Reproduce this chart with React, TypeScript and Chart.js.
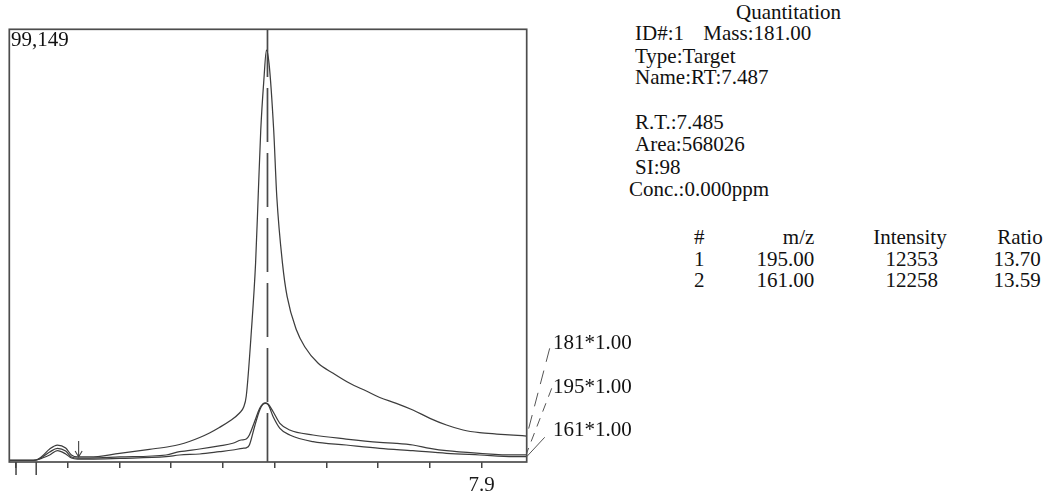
import React, { useEffect, useRef } from "react";
import { Chart, registerables } from "chart.js";

Chart.register(...registerables);

// ---- data ----
const yMax = 99149;
const xMin = 6.987;
const xMax = 7.987;
const xTickValues = [7.0, 7.1, 7.2, 7.3, 7.4, 7.5, 7.6, 7.7, 7.8, 7.9];
const xTickLabels = ["", "", "", "", "", "", "", "", "", "7.9"];
const markerTicks = [7.0, 7.039];
const arrowRT = 7.121;
const rtLine = 7.486;
const seriesNames = ["181*1.00", "195*1.00", "161*1.00"];

const rt181 = [6.987, 7.026, 7.039, 7.051, 7.065, 7.08, 7.096, 7.107, 7.119, 7.142, 7.2, 7.258, 7.297, 7.316, 7.335, 7.355, 7.374, 7.393, 7.413, 7.432, 7.44, 7.445, 7.455, 7.463, 7.468, 7.473, 7.479, 7.484, 7.489, 7.498, 7.504, 7.515, 7.524, 7.542, 7.558, 7.584, 7.613, 7.645, 7.677, 7.703, 7.735, 7.767, 7.8, 7.832, 7.864, 7.896, 7.929, 7.961, 7.987];
const int181 = [344, 344, 458, 1375, 2978, 3895, 3207, 1604, 1146, 1146, 1993, 2910, 3551, 4009, 4697, 5613, 6644, 7904, 9393, 11226, 12600, 15120, 30241, 45522, 60780, 76061, 87516, 94389, 91343, 76061, 60780, 45522, 37870, 30241, 26416, 22612, 20322, 18030, 16266, 14777, 13448, 11913, 10012, 8477, 7331, 6713, 6415, 6186, 5957];

const rt195 = [6.987, 7.026, 7.039, 7.051, 7.065, 7.08, 7.096, 7.107, 7.119, 7.142, 7.2, 7.29, 7.316, 7.355, 7.393, 7.419, 7.435, 7.445, 7.451, 7.461, 7.471, 7.477, 7.482, 7.487, 7.497, 7.51, 7.529, 7.574, 7.638, 7.703, 7.735, 7.767, 7.8, 7.832, 7.896, 7.961, 7.987];
const int195 = [344, 344, 458, 1146, 2292, 3138, 2520, 1146, 916, 916, 1146, 1604, 2360, 2978, 3700, 4300, 5040, 5270, 6186, 9233, 12303, 13300, 13560, 13300, 11524, 8866, 7331, 6186, 5269, 4513, 4284, 3895, 3139, 2589, 1993, 1604, 1604];

const rt161 = [6.987, 7.026, 7.039, 7.051, 7.065, 7.08, 7.096, 7.107, 7.119, 7.142, 7.2, 7.29, 7.316, 7.355, 7.393, 7.419, 7.438, 7.445, 7.451, 7.461, 7.471, 7.477, 7.482, 7.487, 7.497, 7.51, 7.529, 7.574, 7.638, 7.703, 7.767, 7.832, 7.896, 7.961, 7.987];
const int161 = [344, 344, 458, 916, 1604, 2589, 1833, 916, 687, 687, 848, 1214, 1604, 1833, 2360, 2749, 3138, 3250, 3895, 8087, 11913, 13200, 13450, 13200, 10378, 7721, 6186, 4651, 3895, 3139, 2589, 1993, 1604, 1214, 1214];

const toPoints = (xs: number[], ys: number[]) => xs.map((x, i) => ({ x, y: ys[i] }));

const LINE = "#444444";
const FONT = '"Liberation Serif", "Times New Roman", serif';

const overlayPlugin = {
  id: "overlay",
  beforeDatasetsDraw(chart: any) {
    const { ctx, chartArea: a, scales } = chart;
    const px = scales.x.getPixelForValue(rtLine);
    ctx.save();
    ctx.strokeStyle = "#4a4a4a";
    ctx.lineWidth = 1.7;
    const firstGap = a.top + 47.7;
    const segs: [number, number][] = [[a.top, firstGap]];
    for (let k = 0; k < 5; k++) {
      const s = firstGap + 65 * k + 11;
      segs.push([s, s + 54]);
    }
    segs.push([firstGap + 65 * 5 + 11, a.bottom]);
    ctx.beginPath();
    segs.forEach(([s, e]) => {
      ctx.moveTo(px, s);
      ctx.lineTo(px, e);
    });
    ctx.stroke();
    ctx.restore();
  },
  afterDraw(chart: any) {
    const { ctx, chartArea: a, scales } = chart;
    ctx.save();
    // plot frame
    ctx.strokeStyle = "#4d4d4d";
    ctx.lineWidth = 1.7;
    ctx.strokeRect(a.left, a.top, a.right - a.left, a.bottom - a.top);
    // long marker ticks
    ctx.lineWidth = 1.5;
    ctx.strokeStyle = LINE;
    ctx.beginPath();
    markerTicks.forEach((v) => {
      const p = scales.x.getPixelForValue(v);
      ctx.moveTo(p, a.bottom);
      ctx.lineTo(p, a.bottom + 13);
    });
    ctx.stroke();
    // peak-start arrow
    const ax = scales.x.getPixelForValue(arrowRT);
    const ay = a.bottom - 5;
    ctx.lineWidth = 1.1;
    ctx.beginPath();
    ctx.moveTo(ax, ay - 16);
    ctx.lineTo(ax, ay);
    ctx.moveTo(ax - 3.5, ay - 6);
    ctx.lineTo(ax, ay);
    ctx.lineTo(ax + 3.5, ay - 6);
    ctx.stroke();
    // leader lines to series labels
    const anchors: [number, number][] = [
      [a.right + 23, a.top + 319],
      [a.right + 25, a.top + 359],
      [a.right + 18, a.top + 408],
    ];
    const dashes = [[14, 9], [9, 7], []];
    chart.data.datasets.forEach((ds: any, i: number) => {
      const last = ds.data[ds.data.length - 1];
      const sx = scales.x.getPixelForValue(last.x);
      const sy = scales.y.getPixelForValue(last.y);
      ctx.setLineDash(dashes[i]);
      ctx.lineWidth = 1;
      ctx.strokeStyle = "#555";
      ctx.beginPath();
      ctx.moveTo(anchors[i][0], anchors[i][1]);
      ctx.lineTo(sx, sy - (i === 1 ? 2 : 0));
      ctx.stroke();
    });
    ctx.restore();
  },
};

function Txt(props: { x?: number; right?: number; top: number; children: React.ReactNode }) {
  const style: React.CSSProperties = {
    position: "absolute",
    top: props.top,
    whiteSpace: "nowrap",
  };
  if (props.right !== undefined) {
    style.right = 1053 - props.right;
    style.textAlign = "right";
  } else {
    style.left = props.x;
  }
  return <div style={style}>{props.children}</div>;
}

export default function App() {
  const ref = useRef<HTMLCanvasElement | null>(null);

  useEffect(() => {
    if (!ref.current) return;
    const mk = (label: string, xs: number[], ys: number[]) => ({
      label,
      data: toPoints(xs, ys),
      borderColor: "#3d3d3d",
      borderWidth: 1.25,
      pointRadius: 0,
      fill: false,
      cubicInterpolationMode: "monotone" as const,
    });
    const chart = new Chart(ref.current, {
      type: "line",
      data: {
        datasets: [
          mk(seriesNames[0], rt181, int181),
          mk(seriesNames[1], rt195, int195),
          mk(seriesNames[2], rt161, int161),
        ],
      },
      options: {
        animation: false,
        responsive: false,
        events: [],
        layout: { padding: { left: 9.3, top: 29.3, right: 33.3, bottom: 0 } },
        plugins: { legend: { display: false }, tooltip: { enabled: false }, title: { display: false } },
        scales: {
          x: {
            type: "linear",
            min: xMin,
            max: xMax,
            afterBuildTicks: (scale: any) => {
              scale.ticks = xTickValues.map((v) => ({ value: v }));
            },
            afterFit: (scale: any) => {
              scale.height = 38;
            },
            grid: {
              display: true,
              drawOnChartArea: false,
              drawTicks: true,
              tickLength: 6,
              color: LINE,
              lineWidth: 1.5,
            },
            border: { display: false },
            ticks: {
              autoSkip: false,
              maxRotation: 0,
              padding: 5,
              color: "#1a1a1a",
              font: { family: FONT, size: 21 },
              callback: (_v: any, i: number) => xTickLabels[i] ?? "",
            },
          },
          y: {
            type: "linear",
            min: 0,
            max: yMax,
            display: false,
          },
        },
      },
      plugins: [overlayPlugin],
    });
    return () => chart.destroy();
  }, []);

  return (
    <div
      style={{
        position: "fixed",
        left: 0,
        top: 0,
        width: 1053,
        height: 500,
        background: "#fff",
        fontFamily: FONT,
        fontSize: 21,
        lineHeight: "21px",
        color: "#111",
        overflow: "hidden",
      }}
    >
      <canvas ref={ref} width={560} height={500} style={{ position: "absolute", left: 0, top: 0 }} />
      <Txt x={11} top={29.1}>99,149</Txt>
      <Txt x={553} top={331.7}>{seriesNames[0]}</Txt>
      <Txt x={553} top={375.7}>{seriesNames[1]}</Txt>
      <Txt x={553} top={419.1}>{seriesNames[2]}</Txt>

      <Txt x={736} top={1.7}>Quantitation</Txt>
      <Txt x={635} top={23.1}>ID#:1</Txt>
      <Txt x={703.3} top={23.1}>Mass:181.00</Txt>
      <Txt x={635} top={45.7}>Type:Target</Txt>
      <Txt x={635} top={67.4}>Name:RT:7.487</Txt>
      <Txt x={635} top={112.4}>R.T.:7.485</Txt>
      <Txt x={635} top={134.1}>Area:568026</Txt>
      <Txt x={635} top={157.4}>SI:98</Txt>
      <Txt x={629} top={179.1}>Conc.:0.000ppm</Txt>

      <Txt x={694} top={227.4}>#</Txt>
      <Txt right={814.3} top={227.4}>m/z</Txt>
      <Txt right={946.7} top={227.4}>Intensity</Txt>
      <Txt right={1042.7} top={227.4}>Ratio</Txt>

      <Txt x={694} top={249.1}>1</Txt>
      <Txt right={814.3} top={249.1}>195.00</Txt>
      <Txt right={938} top={249.1}>12353</Txt>
      <Txt right={1040.7} top={249.1}>13.70</Txt>

      <Txt x={694} top={269.7}>2</Txt>
      <Txt right={814.3} top={269.7}>161.00</Txt>
      <Txt right={938} top={269.7}>12258</Txt>
      <Txt right={1040.7} top={269.7}>13.59</Txt>
    </div>
  );
}
